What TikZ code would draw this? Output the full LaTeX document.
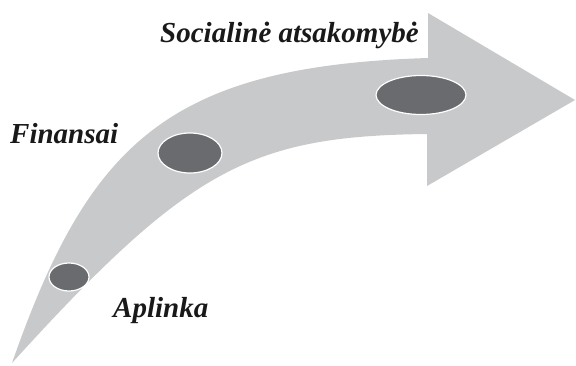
\documentclass[tikz,border=0pt]{standalone}
\usepackage{fontspec}
\setmainfont{Liberation Serif}
\usetikzlibrary{shapes.geometric}
\definecolor{arrowgray}{HTML}{C8C9CA}
\definecolor{dotgray}{HTML}{6A6B6F}
\begin{document}
\begin{tikzpicture}[x=1pt,y=-1pt,
 font=\fontsize{29}{34}\selectfont\bfseries\itshape,
 dot/.style={ellipse,draw=white,line width=1.2pt,fill=dotgray,inner sep=0pt},
 lbl/.style={anchor=base west,inner sep=0pt,text=black!90}]
\useasboundingbox (0,0) rectangle (576,365);
% curved arrow
\coordinate (tail) at (12,363);
\coordinate (up) at (428,58);
\coordinate (hdtop) at (428,13);
\coordinate (tip) at (575,100);
\coordinate (hdbot) at (427,186);
\coordinate (low) at (427,134);
\fill[arrowgray] (tail) .. controls (89,143) and (168,66) .. (up)
 -- (hdtop) -- (tip) -- (hdbot) -- (low)
 .. controls (251,136) and (189,168) .. (tail) -- cycle;
% stages
\node[dot,minimum width=40pt,minimum height=28pt] (env) at (69,277) {};
\node[dot,minimum width=64pt,minimum height=40pt] (fin) at (190,153) {};
\node[dot,minimum width=90pt,minimum height=39pt] (soc) at (421,95) {};
\node[lbl] (envlbl) at (113,317) {Aplinka};
\node[lbl] (finlbl) at (10,143) {Finansai};
\node[lbl] (soclbl) at (160,42) {Socialinė atsakomybė};
\end{tikzpicture}
\end{document}
